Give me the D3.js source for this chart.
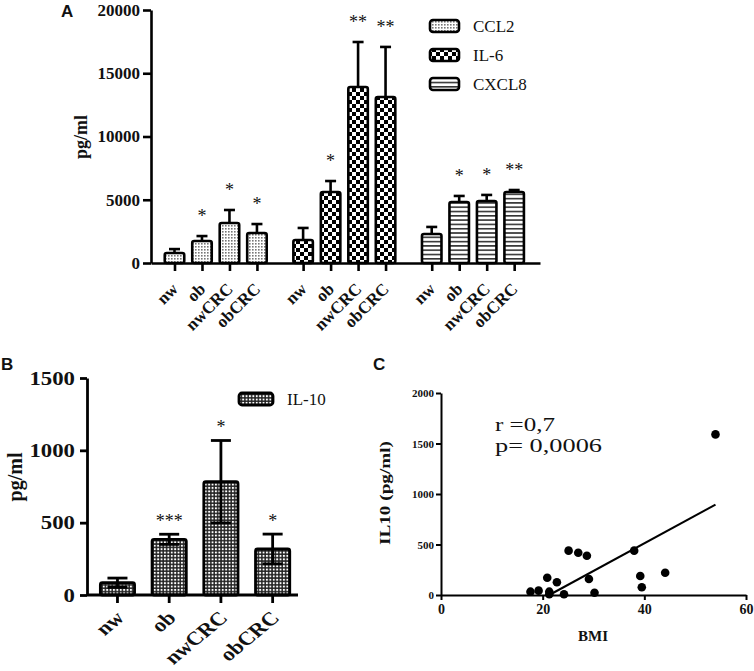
<!DOCTYPE html>
<html><head><meta charset="utf-8">
<script src="https://cdn.jsdelivr.net/npm/d3@7"></script>
<style>
body{margin:0;background:#fff}
svg{display:block}
text{font-family:"Liberation Serif","Times New Roman",serif;fill:#111}
</style>
</head><body>
<svg id="c" width="754" height="671"></svg>
<script>
// ---------- data ----------
const categories = ["nw","ob","nwCRC","obCRC"];
const cytokinesA = ["CCL2","IL-6","CXCL8"];
const ccl2Mean  = [790, 1740, 3160, 2370];
const ccl2Sem   = [310, 390, 1030, 710];
const ccl2Stars = ["", "*", "*", "*"];
const il6Mean   = [1820, 5610, 13910, 13120];
const il6Sem    = [950, 870, 3560, 3960];
const il6Stars  = ["", "*", "**", "**"];
const cxcl8Mean = [2290, 4820, 4900, 5610];
const cxcl8Sem  = [560, 480, 480, 160];
const cxcl8Stars= ["", "*", "*", "**"];
const ticksA = [0, 5000, 10000, 15000, 20000];

const il10Mean  = [85, 385, 783, 318];
const il10Sem   = [32, 35, 285, 103];
const il10Stars = ["", "***", "*", "*"];
const ticksB = [0, 500, 1000, 1500];

const bmi   = [54, 25.1, 27.0, 28.7, 38.0, 20.9, 22.8, 29.1, 39.2, 44.1, 39.5, 17.6, 19.2, 21.3, 21.3, 24.2, 30.2];
const il10C = [1590, 439, 419, 389, 439, 171, 126, 158, 188, 221, 76, 33, 43, 33, 8, 8, 23];
const fitX = [21.3, 54];
const fitY = [0, 895];
const ticksCy = [0, 500, 1000, 1500, 2000];
const ticksCx = [0, 20, 40, 60];

// ---------- setup ----------
const SERIF = '"Liberation Serif", "Times New Roman", serif';
const SANS = '"Liberation Sans", Arial, sans-serif';
const svg = d3.select("#c");
const defs = svg.append("defs");
function pattern(id, w, h, bg, rects){
  const p = defs.append("pattern").attr("id", id).attr("patternUnits","userSpaceOnUse")
    .attr("width", w).attr("height", h);
  p.append("rect").attr("width", w).attr("height", h).attr("fill", bg);
  rects.forEach(r => p.append("rect").attr("x", r[0]).attr("y", r[1]).attr("width", r[2]).attr("height", r[3]).attr("fill", r[4]));
}
pattern("pCCL2", 3, 3, "#fff", [[0,0,1.6,1.6,"#777"]]);
pattern("pIL6", 8, 8, "#fff", [[0,0,4,4,"#000"],[4,4,4,4,"#000"]]);
pattern("pCXCL8", 4, 4.3, "#fff", [[0,0,4,1.6,"#333"]]);
pattern("pIL10", 3.4, 3.4, "#222", [[0.8,0.8,1.9,1.9,"#fff"]]);
const fills = ["url(#pCCL2)","url(#pIL6)","url(#pCXCL8)"];
const fmt = d3.format("d");

function styleAxis(g, sw){
  g.attr("font-family", null);
  g.selectAll("path.domain").attr("stroke","#000").attr("stroke-width", sw);
  g.selectAll(".tick line").attr("stroke","#000").attr("stroke-width", sw);
  g.selectAll(".tick text").attr("fill","#111").style("font-family", SERIF).style("font-weight","bold");
}

// ---------- Panel A ----------
const seriesA = [
  {mean: ccl2Mean, sem: ccl2Sem, stars: ccl2Stars},
  {mean: il6Mean, sem: il6Sem, stars: il6Stars},
  {mean: cxcl8Mean, sem: cxcl8Sem, stars: cxcl8Stars}
];
const gapA = 4.68;
const yA = d3.scaleLinear().domain([0, 20000]).range([263, 10]);
const xA = d3.scaleLinear().domain([-0.855, 13.3]).range([151, 540]);
const idxA = [];
seriesA.forEach((s, g) => categories.forEach((c, i) => idxA.push(g * gapA + i)));

const gA = svg.append("g");
const bwA = 19.5;
seriesA.forEach((s, g) => {
  categories.forEach((c, i) => {
    const cx = xA(g * gapA + i);
    gA.append("rect").attr("x", cx - bwA/2).attr("y", yA(s.mean[i]))
      .attr("width", bwA).attr("height", yA(0) - yA(s.mean[i]))
      .attr("rx", 2).attr("fill", fills[g]).attr("stroke","#000").attr("stroke-width", 2.6);
    const top = yA(s.mean[i] + s.sem[i]);
    gA.append("line").attr("x1", cx).attr("x2", cx).attr("y1", yA(s.mean[i])).attr("y2", top)
      .attr("stroke","#000").attr("stroke-width", 2.6);
    gA.append("line").attr("x1", cx - 5.5).attr("x2", cx + 5.5).attr("y1", top).attr("y2", top)
      .attr("stroke","#000").attr("stroke-width", 2.6);
    if (s.stars[i]) {
      gA.append("text").attr("x", cx).attr("y", top - 24 + 10).attr("text-anchor","middle")
        .style("font-size","18px").attr("fill","#333").text(s.stars[i]);
    }
  });
});
const axAy = gA.append("g").attr("transform","translate(151,0)")
  .call(d3.axisLeft(yA).tickValues(ticksA).tickSize(8).tickSizeOuter(0).tickPadding(3).tickFormat(fmt));
styleAxis(axAy, 2.6);
axAy.selectAll(".tick text").style("font-size","17px");
const axAx = gA.append("g").attr("transform","translate(0,263)")
  .call(d3.axisBottom(xA).tickValues(idxA).tickSize(8).tickSizeOuter(0).tickFormat((d, i) => categories[i % 4]));
styleAxis(axAx, 2.6);
axAx.selectAll(".tick text").style("font-size","17px")
  .attr("x", 0).attr("y", 0).attr("dy", 0).attr("text-anchor","end")
  .attr("transform","translate(4,27) rotate(-45)");
gA.append("text").attr("transform","translate(87,137) rotate(-90)").attr("text-anchor","middle")
  .style("font-size","18px").style("font-weight","bold").text("pg/ml");
// legend A
cytokinesA.forEach((name, k) => {
  gA.append("rect").attr("x", 430).attr("y", 20 + 29*k).attr("width", 29).attr("height", 12).attr("rx", 3)
    .attr("fill", fills[k]).attr("stroke","#000").attr("stroke-width", 2.6);
  gA.append("text").attr("x", 473).attr("y", 32 + 29*k).style("font-size","17px").text(name);
});
svg.append("text").attr("x", 61).attr("y", 17).style("font-family", SANS)
  .style("font-size","17px").style("font-weight","bold").attr("fill","#000").text("A");

// ---------- Panel B ----------
const yB = d3.scaleLinear().domain([0, 1500]).range([595, 378]);
const xB = d3.scaleBand().domain(categories).range([91.6, 298.5]).paddingInner(0.3).paddingOuter(0.15);
const gB = svg.append("g");
categories.forEach((c, i) => {
  const cx = xB(c) + xB.bandwidth()/2;
  const bw = xB.bandwidth() - 2;
  gB.append("rect").attr("x", cx - bw/2).attr("y", yB(il10Mean[i])).attr("width", bw)
    .attr("height", yB(0) - yB(il10Mean[i])).attr("rx", 2)
    .attr("fill","url(#pIL10)").attr("stroke","#000").attr("stroke-width", 2.8);
  const top = yB(il10Mean[i] + il10Sem[i]);
  const bot = yB(il10Mean[i] - il10Sem[i]);
  gB.append("line").attr("x1", cx).attr("x2", cx).attr("y1", bot).attr("y2", top).attr("stroke","#000").attr("stroke-width", 2.8);
  [top, bot].forEach(yy => gB.append("line").attr("x1", cx - 10).attr("x2", cx + 10).attr("y1", yy).attr("y2", yy)
    .attr("stroke","#000").attr("stroke-width", 2.8));
  if (il10Stars[i]) {
    gB.append("text").attr("x", cx).attr("y", top - 17 + 10).attr("text-anchor","middle")
      .style("font-size","18px").attr("fill","#333").text(il10Stars[i]);
  }
});
const axBy = gB.append("g").attr("transform","translate(87,0)")
  .call(d3.axisLeft(yB).tickValues(ticksB).tickSize(7).tickSizeOuter(0).tickPadding(3).tickFormat(fmt));
styleAxis(axBy, 2.8);
axBy.selectAll(".tick text").style("font-size","19px").attr("transform","scale(1.2,1)");
const axBx = gB.append("g").attr("transform","translate(0,595)")
  .call(d3.axisBottom(xB).tickSize(8).tickSizeOuter(0));
axBx.select("path.domain").remove();
gB.append("line").attr("x1", 87).attr("x2", 298).attr("y1", 595).attr("y2", 595).attr("stroke","#000").attr("stroke-width", 2.8);
styleAxis(axBx, 2.8);
axBx.selectAll(".tick text").style("font-size","19px")
  .attr("x", 0).attr("y", 0).attr("dy", 0).attr("text-anchor","end")
  .attr("transform","translate(8,24) scale(1.2,1) rotate(-45)");
gB.append("text").attr("transform","translate(22,477) rotate(-90)").attr("text-anchor","middle")
  .style("font-size","20px").style("font-weight","bold").text("pg/ml");
gB.append("rect").attr("x", 239).attr("y", 393).attr("width", 34).attr("height", 12).attr("rx", 3)
  .attr("fill","url(#pIL10)").attr("stroke","#000").attr("stroke-width", 2.8);
gB.append("text").attr("x", 287).attr("y", 405).style("font-size","17px").text("IL-10");
svg.append("text").attr("x", 1).attr("y", 370).style("font-family", SANS)
  .style("font-size","17px").style("font-weight","bold").attr("fill","#000").text("B");

// ---------- Panel C ----------
const xC = d3.scaleLinear().domain([0, 60]).range([441, 746]);
const yC = d3.scaleLinear().domain([0, 2000]).range([595, 393]);
const gC = svg.append("g");
const axCy = gC.append("g").attr("transform","translate(441,0)")
  .call(d3.axisLeft(yC).tickValues(ticksCy).tickSize(5).tickSizeOuter(0).tickPadding(2).tickFormat(fmt));
styleAxis(axCy, 2);
axCy.selectAll(".tick text").style("font-size","11px");
const axCx = gC.append("g").attr("transform","translate(0,595)")
  .call(d3.axisBottom(xC).tickValues(ticksCx).tickSize(5).tickSizeOuter(0).tickPadding(4).tickFormat(fmt));
styleAxis(axCx, 2);
axCx.selectAll(".tick text").style("font-size","14px");
gC.selectAll("circle").data(bmi).enter().append("circle")
  .attr("cx", (d) => xC(d)).attr("cy", (d, i) => yC(il10C[i])).attr("r", 4.3).attr("fill","#000");
gC.append("line").attr("x1", xC(fitX[0])).attr("y1", yC(fitY[0])).attr("x2", xC(fitX[1])).attr("y2", yC(fitY[1]))
  .attr("stroke","#000").attr("stroke-width", 2);
gC.append("text").attr("x", 495).attr("y", 431).style("font-size","18px")
  .attr("textLength", 60).attr("lengthAdjust","spacingAndGlyphs").text("r =0,7");
gC.append("text").attr("x", 495).attr("y", 452).style("font-size","18px")
  .attr("textLength", 107).attr("lengthAdjust","spacingAndGlyphs").text("p= 0,0006");
gC.append("text").attr("x", 593).attr("y", 641).attr("text-anchor","middle")
  .style("font-size","15px").style("font-weight","bold").text("BMI");
gC.append("text").attr("transform","translate(390,493) rotate(-90)").attr("text-anchor","middle")
  .style("font-size","15px").style("font-weight","bold")
  .attr("textLength", 104).attr("lengthAdjust","spacingAndGlyphs").text("IL10 (pg/ml)");
svg.append("text").attr("x", 373).attr("y", 370).style("font-family", SANS)
  .style("font-size","17px").style("font-weight","bold").attr("fill","#000").text("C");
</script>
</body></html>
